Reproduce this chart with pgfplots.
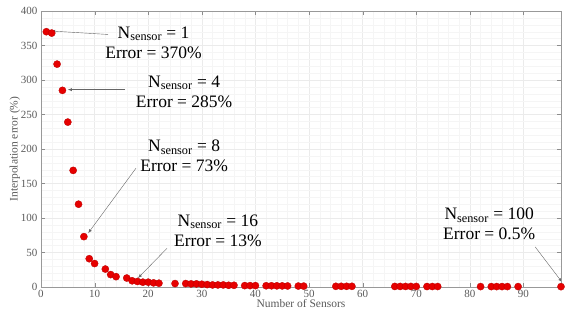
\documentclass[border=0pt]{standalone}
\usepackage{pgfplots}
\pgfplotsset{compat=1.18}
\usepackage{fontspec}
\setmainfont{Liberation Serif}
\definecolor{tickgray}{RGB}{90,90,90}
\definecolor{mred}{RGB}{230,0,0}
\begin{document}
\begin{tikzpicture}
\begin{axis}[
  scale only axis,
  width=520pt, height=276pt,
  xmin=0, xmax=97, ymin=0, ymax=400,
  xtick={0,10,...,90}, ytick={0,50,...,400},
  minor x tick num=4, minor y tick num=4,
  grid=both,
  major grid style={draw=black!8, line width=0.4pt},
  minor grid style={draw=black!4, line width=0.3pt},
  axis line style={draw=black!40},
  major tick style={draw=black!45},
  minor tick style={draw=none},
  tick align=inside,
  major tick length=4pt,
  ticklabel style={font=\fontsize{11}{13}\selectfont, text=tickgray},
  /pgf/number format/assume math mode=true,
  xlabel={Number of Sensors},
  ylabel={Interpolation error (\%)},
  label style={font=\fontsize{11.5}{13}\selectfont, text=tickgray},
  xlabel style={yshift=5pt},
  ylabel style={yshift=-6pt},
  clip=true,
]
\addplot[only marks, mark=*, mark size=3.6pt, mark options={fill=mred, draw=mred!80!black, line width=0.3pt}] coordinates {
(1,370)(2,368)(3,323)(4,285)(5,239)(6,169)(7,120)(8,73)(9,41)(10,34)
(12,26)(13,18)(14,15)(16,13)(17,9)(18,8)(19,7)(20,7)(21,6)(22,5.5)
(25,5)(27,5)(28,4.5)(29,4.5)(30,4)(31,3.5)(32,3)(33,3)(34,3)(35,2.5)(36,2.5)
(38,2)(39,2)(40,2)(42,1.8)(43,1.8)(44,1.7)(45,1.6)(46,1.5)(48,1.4)(49,1.3)
(55,1)(56,1)(57,1)(58,1)(66,0.8)(67,0.8)(68,0.8)(69,0.8)(70,0.8)
(72,0.7)(73,0.7)(74,0.7)(82,0.6)(84,0.6)(85,0.6)(86,0.6)(87,0.6)(89,0.6)(97,0.5)
};
\begin{scope}[every node/.style={font=\fontsize{17.5}{20}\selectfont, align=center, inner sep=0pt}]
\node at (axis cs:21,354) {N\textsubscript{sensor} = 1\\Error = 370\%};
\node at (axis cs:26.7,283) {N\textsubscript{sensor} = 4\\Error = 285\%};
\node at (axis cs:26.7,190) {N\textsubscript{sensor} = 8\\Error = 73\%};
\node at (axis cs:33,82) {N\textsubscript{sensor} = 16\\Error = 13\%};
\node at (axis cs:83.6,91) {N\textsubscript{sensor} = 100\\Error = 0.5\%};
\end{scope}
\begin{scope}[draw=black!60, line width=0.4pt, -{latex}]
\draw (axis cs:12.5,366) -- (axis cs:1.9,371);
\draw (axis cs:15.7,286) -- (axis cs:5.0,286);
\draw (axis cs:17.7,172) -- (axis cs:8.8,78);
\draw (axis cs:23.5,56) -- (axis cs:18.1,13);
\draw (axis cs:92.2,58) -- (axis cs:97.2,7);
\end{scope}
\end{axis}
\pgfresetboundingbox
\path (-41pt,-30pt) rectangle (525pt,287pt);
\end{tikzpicture}
\end{document}
